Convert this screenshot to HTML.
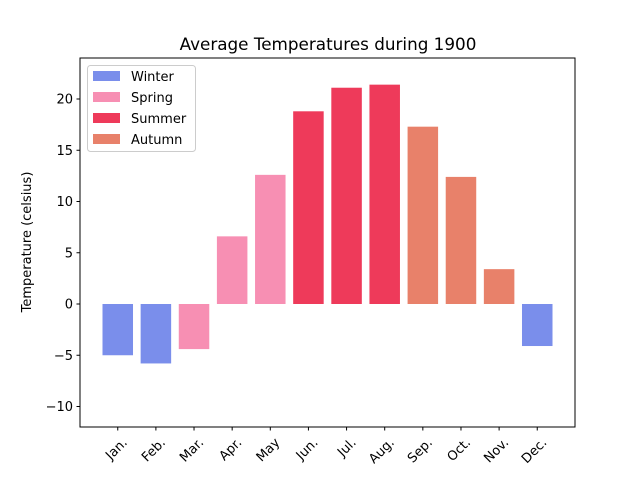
<!DOCTYPE html>
<html><head><meta charset="utf-8"><style>
body{margin:0;background:#fff;}
svg{font-family:"DejaVu Sans","Liberation Sans",sans-serif;}
</style></head><body>
<svg id="chart" width="640" height="480">
<rect width="640" height="480" fill="#fff"/>
<text x="328" y="50" text-anchor="middle" font-size="16.8">Average Temperatures during 1900</text>
<g id="bars"></g>
<g id="yticks"></g>
<g id="xticks"></g>
<rect x="80" y="58" width="495" height="369" fill="none" stroke="#000" stroke-width="1"/>
<text transform="translate(31,242) rotate(-90)" text-anchor="middle" font-size="13">Temperature (celsius)</text>
<g id="legend"></g>
</svg>
<script>
const months=["Jan.","Feb.","Mar.","Apr.","May","Jun.","Jul.","Aug.","Sep.","Oct.","Nov.","Dec."];
const temps=[-5.0,-5.8,-4.4,6.6,12.6,18.8,21.1,21.4,17.3,12.4,3.4,-4.1];
const seasons=["Winter","Winter","Spring","Spring","Spring","Summer","Summer","Summer","Autumn","Autumn","Autumn","Winter"];
const seasonNames=["Winter","Spring","Summer","Autumn"];
const seasonColors={Winter:"#7a8eeb",Spring:"#f78fb3",Summer:"#ee3a5a",Autumn:"#e8816a"};
const yTickVals=[-10,-5,0,5,10,15,20];
const NS="http://www.w3.org/2000/svg";
const X0=80,X1=575,Y0=58,Y1=427,xmin=-0.99,xmax=11.99,ymin=-12,ymax=24;
const sx=v=>X0+(v-xmin)/(xmax-xmin)*(X1-X0);
const sy=v=>Y1-(v-ymin)/(ymax-ymin)*(Y1-Y0);
function mk(t,a,p){const e=document.createElementNS(NS,t);for(const k in a)e.setAttribute(k,a[k]);p.appendChild(e);return e;}
const bars=document.getElementById('bars');
const bw=sx(0.8)-sx(0);
temps.forEach((v,i)=>{
  const r=mk('rect',{x:sx(i)-bw/2,y:Math.min(sy(v),sy(0)),width:bw,height:Math.abs(sy(v)-sy(0)),fill:seasonColors[seasons[i]]},bars);
  
  
});
const yt=document.getElementById('yticks');
yTickVals.forEach(v=>{
  const y=sy(v);
  mk('line',{x1:X0-3.5,x2:X0,y1:y,y2:y,stroke:'#000'},yt);
  const t=mk('text',{x:X0-7,y:y+4.5,'text-anchor':'end','font-size':'13'},yt);
  t.textContent=v<0?'\u2212'+Math.abs(v):String(v);
  
  
});
const xt=document.getElementById('xticks');
months.forEach((m,i)=>{
  const x=sx(i);
  mk('line',{x1:x,x2:x,y1:Y1,y2:Y1+3.5,stroke:'#000'},xt);
  const t=mk('text',{x:x+4,y:Y1+10,'text-anchor':'end','font-size':'13',transform:`rotate(-45 ${x+4} ${Y1+10})`,'dominant-baseline':'hanging'},xt);
  t.textContent=m;
  
  
});
const lg=document.getElementById('legend');
mk('rect',{x:87.5,y:65.5,width:108,height:86,rx:3,fill:'#fff',stroke:'#ccc'},lg);
seasonNames.forEach((s,i)=>{
  const y=70+i*21;
  mk('rect',{x:93,y:y+1,width:27,height:10,fill:seasonColors[s]},lg);
  const t=mk('text',{x:131,y:y+11,'font-size':'13'},lg);
  t.textContent=s;
  
  
});
</script>
</body></html>
